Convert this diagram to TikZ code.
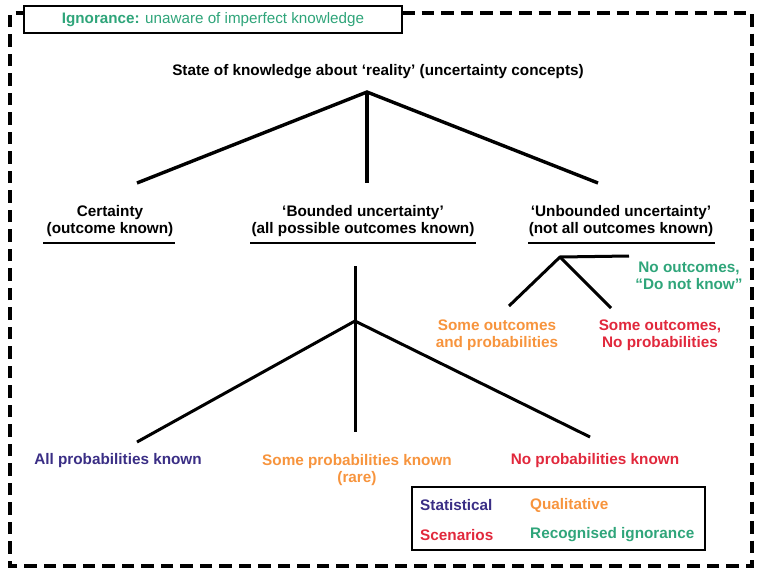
\documentclass[tikz,border=0pt]{standalone}
\usepackage{fontspec}
\setmainfont{Liberation Sans}
\definecolor{cStat}{HTML}{3A2E85}
\definecolor{cQual}{HTML}{F7943D}
\definecolor{cScen}{HTML}{E1283C}
\definecolor{cIgn}{HTML}{2FA57A}
\tikzset{
  lbl/.style={font=\fontsize{15.3}{17}\selectfont\bfseries, align=center, inner sep=0pt},
  branch/.style={line width=3.4pt},
  trunk/.style={line width=4.6pt},
  twig/.style={line width=3pt},
  uline/.style={line width=2.2pt},
  border/.style={line width=3.2pt, dash pattern=on 12.5pt off 7pt},
}
\begin{document}
\begin{tikzpicture}[x=1pt,y=-1pt]
\useasboundingbox (0,0) rectangle (758,573);

% outer dashed frame
\draw[border] (402,13) -- (752,13) -- (752,566) -- (10,566) -- (10,13) -- (24,13);

% heading box
\node[draw, line width=1.8pt, fill=white, minimum width=378pt, minimum height=27pt, inner sep=0pt,
      text=cIgn, font=\fontsize{15.2}{17}\selectfont] (ign) at (213,19.5)
  {\textbf{Ignorance:} unaware of imperfect knowledge};

% top level
\node[lbl] (root) at (378,72) {State of knowledge about ‘reality’ (uncertainty concepts)};
\coordinate (apex) at (367,92);
\coordinate (eC) at (137,183);
\coordinate (eB) at (367,183);
\coordinate (eU) at (598,183);
\draw[branch] (eC) -- (apex) -- (eU);
\draw[trunk] (apex) -- (eB);

\node[lbl] (cert) at (110,221) {Certainty\\(outcome known)};
\node[lbl] (bound) at (363,221) {‘Bounded uncertainty’\\(all possible outcomes known)};
\node[lbl] (unb) at (621,221) {‘Unbounded uncertainty’\\(not all outcomes known)};
\draw[uline] (43,243) -- (175,243);
\draw[uline] (250,243) -- (476,243);
\draw[uline] (528,243) -- (715,243);

% unbounded subtree
\coordinate (uA) at (560,257);
\coordinate (uH) at (629,256);
\coordinate (uL) at (509,306);
\coordinate (uR) at (611,308);
\draw[twig] (uH) -- (uA) -- (uL);
\draw[twig] (uA) -- (uR);
\node[lbl, text=cIgn] (noout) at (689,276) {No outcomes,\\“Do not know”};
\node[lbl, text=cQual] (someop) at (497,335) {Some outcomes\\and probabilities};
\node[lbl, text=cScen] (somenp) at (660,335) {Some outcomes,\\No probabilities};

% bounded subtree
\coordinate (bT) at (355,266);
\coordinate (bA) at (355,321);
\coordinate (bL) at (137,442);
\coordinate (bM) at (355,432);
\coordinate (bR) at (590,437);
\draw[twig] (bT) -- (bM);
\draw[twig] (bL) -- (bA) -- (bR);

\node[lbl, text=cStat] (allp) at (118,461) {All probabilities known};
\node[lbl, text=cQual] (somep) at (357,470) {Some probabilities known\\(rare)};
\node[lbl, text=cScen] (nop) at (595,461) {No probabilities known};

% key
\node[draw, line width=1.8pt, minimum width=293pt, minimum height=63pt, inner sep=0pt] (key) at (558.5,518.5) {};
\node[lbl, text=cStat, anchor=west] (kStat) at (420,505) {Statistical};
\node[lbl, text=cQual, anchor=west] (kQual) at (530,505) {Qualitative};
\node[lbl, text=cScen, anchor=west] (kScen) at (420,535) {Scenarios};
\node[lbl, text=cIgn, anchor=west] (kIgn) at (530,535) {Recognised ignorance};
\end{tikzpicture}
\end{document}
